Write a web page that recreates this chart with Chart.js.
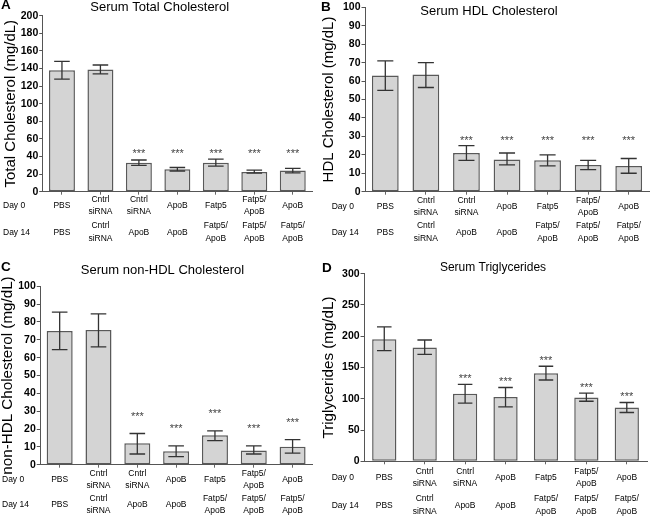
<!DOCTYPE html>
<html><head><meta charset="utf-8">
<script src="https://cdn.jsdelivr.net/npm/chart.js@4.4.1/dist/chart.umd.min.js"></script>
<style>
html,body{margin:0;padding:0;background:#fff;}
#wrap{position:relative;width:650px;height:517px;overflow:hidden;background:#fff;}
canvas{position:absolute;}
.letter{position:absolute;font:bold 13.5px "Liberation Sans",Arial,sans-serif;line-height:1;color:#000;}
</style></head><body>
<div id="wrap">
<canvas id="cA" width="325" height="258" style="left:0;top:0"></canvas>
<canvas id="cB" width="332" height="258" style="left:318px;top:0"></canvas>
<canvas id="cC" width="325" height="259" style="left:0;top:258px"></canvas>
<canvas id="cD" width="332" height="259" style="left:318px;top:258px"></canvas>
<div class="letter" style="left:1px;top:-1.7px">A</div>
<div class="letter" style="left:321px;top:0px">B</div>
<div class="letter" style="left:1px;top:259.6px">C</div>
<div class="letter" style="left:322px;top:261.3px">D</div>
</div>
<script>
// ---- data ----
const day0Labels = ['PBS', ['Cntrl','siRNA'], ['Cntrl','siRNA'], 'ApoB', 'Fatp5', ['Fatp5/','ApoB'], 'ApoB'];
const day14Labels = ['PBS', ['Cntrl','siRNA'], 'ApoB', 'ApoB', ['Fatp5/','ApoB'], ['Fatp5/','ApoB'], ['Fatp5/','ApoB']];
const rowHeaders = ['Day 0', 'Day 14'];
const significance = ['', '', '***', '***', '***', '***', '***'];

const totalChol   = [138, 139, 33, 25.5, 33, 22.5, 24];
const totalCholHi = [148, 144, 36, 27.5, 37, 24.5, 26.5];
const totalCholLo = [128, 134, 30, 23.5, 29, 21, 21.5];

const hdlChol   = [63, 63.5, 21, 17.5, 17, 14.5, 14];
const hdlCholHi = [71, 70, 25, 21, 20, 17, 18];
const hdlCholLo = [55, 56.5, 17, 14.5, 14, 12, 10];

const nonHdlChol   = [75, 75.5, 12, 7.5, 16.5, 8, 10];
const nonHdlCholHi = [85.5, 84.5, 17.5, 10.5, 19, 10.5, 14];
const nonHdlCholLo = [64.5, 66, 6, 4.5, 13.5, 6, 6.5];

const triglycerides   = [195, 182, 108, 103, 141, 102, 86];
const triglyceridesHi = [215, 194, 123, 118, 152, 109, 94];
const triglyceridesLo = [177, 171, 93, 87, 130, 96, 78];

const FONT = '"Liberation Sans", Arial, sans-serif';
const CAT_FONT = 8.5, CAT_LINE = 12.3;

const overlay = {
  id: 'overlay',
  afterDatasetsDraw(chart) {
    const c = chart.config.options.custom;
    const ctx = chart.ctx;
    const ys = chart.scales.y, xs = chart.scales.x;
    const meta = chart.getDatasetMeta(0);
    ctx.save();
    // error bars and significance stars
    meta.data.forEach((el, i) => {
      const x = el.x;
      const yh = ys.getPixelForValue(c.hi[i]);
      const yl = ys.getPixelForValue(c.lo[i]);
      const hw = el.width * 0.3;
      ctx.strokeStyle = '#333';
      ctx.lineWidth = 1.3;
      ctx.beginPath();
      ctx.moveTo(x, yh); ctx.lineTo(x, yl);
      ctx.moveTo(x - hw, yh); ctx.lineTo(x + hw, yh);
      ctx.moveTo(x - hw, yl); ctx.lineTo(x + hw, yl);
      ctx.stroke();
      const s = significance[i];
      if (s) {
        ctx.fillStyle = '#444';
        ctx.font = '11px ' + FONT;
        ctx.textAlign = 'center';
        ctx.textBaseline = 'alphabetic';
        const cy = c.starMode === 'fixed' ? ys.getPixelForValue(c.starLevel) : yh - c.starOffset;
        ctx.fillText(s, x, cy + 6.5);
      }
    });
    // category label rows (Day 0 / Day 14) placed at the x scale's category centres
    const axisY = ys.getPixelForValue(0);
    ctx.fillStyle = '#000';
    ctx.font = CAT_FONT + 'px ' + FONT;
    ctx.textBaseline = 'middle';
    [[day0Labels, c.d0], [day14Labels, c.d14]].forEach(([labels, d], r) => {
      const rowY = axisY + d;
      ctx.textAlign = 'left';
      ctx.fillText(rowHeaders[r], c.dayX, rowY);
      ctx.textAlign = 'center';
      labels.forEach((lab, i) => {
        const lines = Array.isArray(lab) ? lab : [lab];
        const x = xs.getPixelForValue(i);
        const y0 = rowY - (lines.length - 1) * CAT_LINE / 2;
        lines.forEach((ln, k) => ctx.fillText(ln, x, y0 + k * CAT_LINE));
      });
    });
    ctx.restore();
  }
};

function makeChart(id, p) {
  return new Chart(document.getElementById(id), {
    type: 'bar',
    data: {
      labels: day0Labels,
      datasets: [{
        data: p.values,
        backgroundColor: '#d4d4d4',
        borderColor: '#595959',
        borderWidth: 1.5,
        borderSkipped: false,
        barPercentage: p.barPct,
        categoryPercentage: 1
      }]
    },
    options: {
      responsive: false,
      animation: false,
      devicePixelRatio: 1,
      custom: p,
      layout: { padding: p.layout },
      plugins: {
        legend: { display: false },
        tooltip: { enabled: false },
        title: {
          display: true, text: p.title, color: '#000',
          font: { family: FONT, size: p.titleSize, weight: 'normal' },
          padding: p.titlePad
        }
      },
      scales: {
        x: {
          type: 'category', position: 'bottom', offset: true,
          grid: { display: true, drawOnChartArea: false, drawTicks: true, tickLength: 3, offset: false, color: '#666' },
          border: { display: true, color: '#555', width: 1 },
          ticks: { display: false }
        },
        y: {
          min: 0, max: p.max,
          grid: { display: true, drawOnChartArea: false, drawTicks: true, tickLength: 3.5, color: '#555' },
          border: { display: true, color: '#555', width: 1 },
          ticks: { stepSize: p.step, padding: 1, color: '#000', font: { family: FONT, size: 10.5, weight: 'bold' } },
          title: { display: true, text: p.yTitle, color: '#000', padding: p.yTitlePad,
                   font: { family: FONT, size: p.yTitleSize, weight: 'normal' } }
        }
      }
    },
    plugins: [overlay]
  });
}

makeChart('cA', {
  title: 'Serum Total Cholesterol', titleSize: 13, yTitle: 'Total Cholesterol (mg/dL)', yTitleSize: 15,
  values: totalChol, hi: totalCholHi, lo: totalCholLo, max: 200, step: 20,
  layout: { left: 7.4, right: 13, top: -0.8, bottom: 63.3 },
  titlePad: { top: 0, bottom: 0.9 }, yTitlePad: { top: -5.7, bottom: 0 },
  d0: 14, d14: 40.6, barPct: 0.675, starMode: 'fixed', starLevel: 46.5, dayX: 3
});
makeChart('cB', {
  title: 'Serum HDL Cholesterol', titleSize: 13, yTitle: 'HDL Cholesterol (mg/dL)', yTitleSize: 15,
  values: hdlChol, hi: hdlCholHi, lo: hdlCholLo, max: 100, step: 10,
  layout: { left: 11, right: 1, top: -3.6, bottom: 63.3 },
  titlePad: { top: 2.5, bottom: -12 }, yTitlePad: { top: -9, bottom: 4 },
  d0: 15, d14: 40.6, barPct: 0.66, starMode: 'fixed', starLevel: 29.5, dayX: 13.7
});
makeChart('cC', {
  title: 'Serum non-HDL Cholesterol', titleSize: 13, yTitle: 'non-HDL Cholesterol (mg/dL)', yTitleSize: 15.2,
  values: nonHdlChol, hi: nonHdlCholHi, lo: nonHdlCholLo, max: 100, step: 10,
  layout: { left: 13, right: 13, top: 0, bottom: 49.3 },
  titlePad: { top: 4.9, bottom: 7.8 }, yTitlePad: { top: -14, bottom: 0 },
  d0: 15, d14: 40, barPct: 0.67, starMode: 'offset', starOffset: 20, dayX: 2
});
makeChart('cD', {
  title: 'Serum Triglycerides', titleSize: 12, yTitle: 'Triglycerides (mg/dL)', yTitleSize: 15.2,
  values: triglycerides, hi: triglyceridesHi, lo: triglyceridesLo, max: 300, step: 50,
  layout: { left: 21, right: 3, top: 0, bottom: 52.7 },
  titlePad: { top: 2.8, bottom: -1.5 }, yTitlePad: { top: -19.1, bottom: 2.9 },
  d0: 16.7, d14: 44, barPct: 0.6, starMode: 'offset', starOffset: 8.8, dayX: 13.7
});
</script>
</body></html>
